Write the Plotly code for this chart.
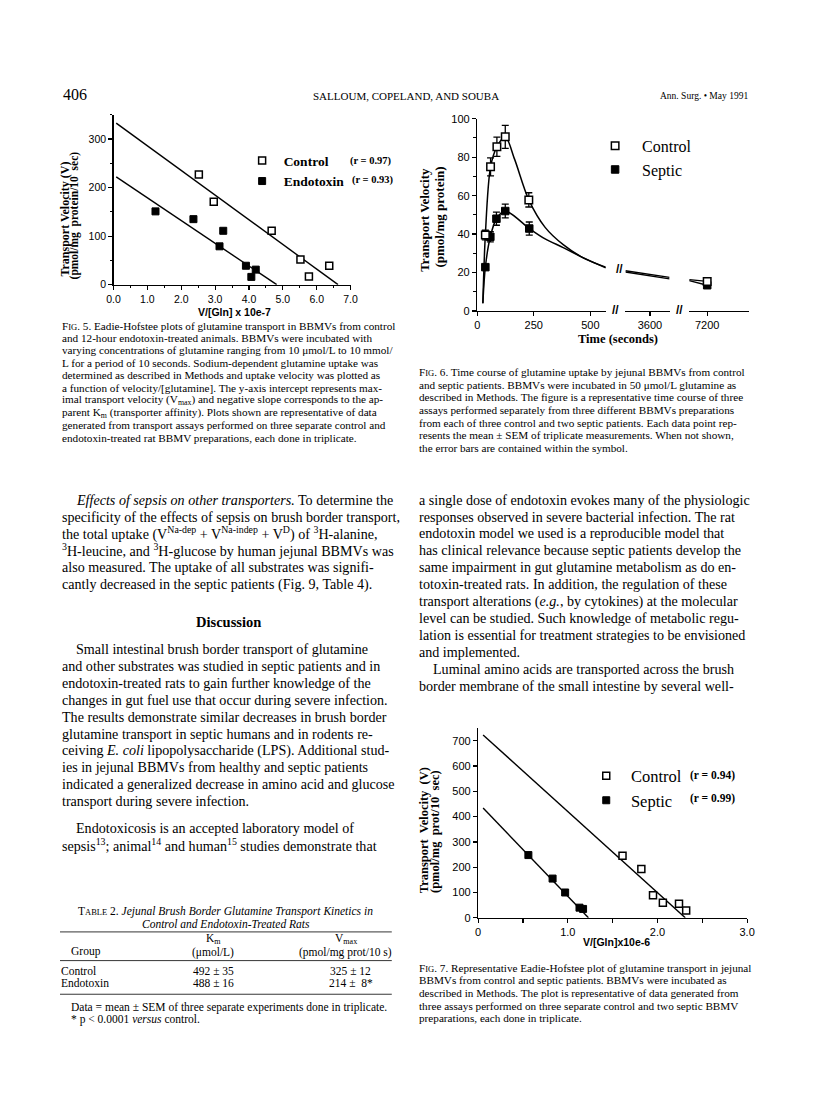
import plotly.graph_objects as go

W, H = 816, 1114
SERIF = "Liberation Serif"
SANS = "Liberation Sans"


def PX(x):
    return x / W


def PY(y):
    return 1 - y / H


# ---------------- Fig. 5 data (Eadie-Hofstee, rats) ----------------
f5_ctrl_x = [2.52, 2.96, 4.67, 5.52, 5.77, 6.37]
f5_ctrl_y = [227, 171, 111, 52, 17, 39]
f5_endo_x = [1.24, 2.36, 3.13, 3.24, 3.91, 4.07, 4.20]
f5_endo_y = [151, 135, 79, 111, 39, 16, 31]
f5_ctrl_fit_x = [0.08, 6.63]
f5_ctrl_fit_y = [333, 0]
f5_endo_fit_x = [0.08, 4.82]
f5_endo_fit_y = [222, 0]
f5_names = ["Control", "Endotoxin"]
f5_r = ["(r = 0.97)", "(r = 0.93)"]
f5_xticks = [0, 1, 2, 3, 4, 5, 6, 7]

# ---------------- Fig. 6 data (time course) ----------------
f6_ctrl_t = [36, 59, 87, 124, 228]
f6_ctrl_v = [39.5, 75, 85.4, 90.6, 57.8]
f6_ctrl_e = [2.5, 4.7, 5.0, 6.0, 3.7]
f6_sept_t = [36, 58, 85, 124, 230]
f6_sept_v = [22.8, 38.6, 48, 52, 42.9]
f6_sept_e = [1.0, 2.7, 3.4, 3.6, 3.4]
f6_late_t = [7200]
f6_ctrl_late = [15.4]
f6_sept_late = [13.4]
# fitted curves
f6_ctrl_curve_t = [25, 36, 59, 87, 124, 165, 228, 300, 380, 470, 568]
f6_ctrl_curve_v = [4, 39.5, 75, 85.4, 90.6, 79, 57.8, 43.5, 34.5, 27.5, 22.8]
f6_sept_curve_t = [25, 36, 58, 85, 124, 230, 300, 380, 470, 568]
f6_sept_curve_v = [4, 22.8, 38.6, 48, 52, 42.9, 37.5, 33.0, 27.6, 22.4]
f6_mid_curve_t = [2052, 4838]
f6_ctrl_mid_v = [20.9, 17.5]
f6_sept_mid_v = [20.3, 16.7]
f6_end_curve_t = [6067, 7200]
f6_ctrl_end_v = [16.3, 15.4]
f6_sept_end_v = [15.8, 13.4]
f6_names = ["Control", "Septic"]

# ---------------- Fig. 7 data (Eadie-Hofstee, patients) ----------------
f7_ctrl_x = [1.61, 1.82, 1.95, 2.06, 2.24, 2.32]
f7_ctrl_y = [245, 193, 89, 59, 55, 29]
f7_sept_x = [0.56, 0.83, 0.97, 1.13, 1.17]
f7_sept_y = [248, 155, 100, 40, 35]
f7_ctrl_fit_x = [0.055, 2.31]
f7_ctrl_fit_y = [723, 0]
f7_sept_fit_x = [0.055, 1.23]
f7_sept_fit_y = [434, 0]
f7_names = ["Control", "Septic"]
f7_r = ["(r = 0.94)", "(r = 0.99)"]
f7_xticks = [0, 1.0, 2.0, 3.0]
f7_xticktext = ["0", "1.0", "2.0", "3.0"]
f7_xminor = [0.5, 1.5, 2.5]

# ---------------- Table 2 ----------------
tab_groups = ["Control", "Endotoxin"]
tab_km = ["492 ± 35", "488 ± 16"]
tab_vmax = ["325 ± 12", "214 ±  8*"]

fig = go.Figure()

LINE = dict(color="black", width=1.4)


def open_sq(size):
    return dict(symbol="square", size=size, color="white", line=dict(color="black", width=1.5))


def fill_sq(size):
    return dict(symbol="square", size=size, color="black", line=dict(color="black", width=1))


def add(tr):
    fig.add_trace(tr)


# Fig 5 traces
add(go.Scatter(x=f5_ctrl_fit_x, y=f5_ctrl_fit_y, mode="lines", line=LINE, showlegend=False, xaxis="x", yaxis="y"))
add(go.Scatter(x=f5_endo_fit_x, y=f5_endo_fit_y, mode="lines", line=LINE, showlegend=False, xaxis="x", yaxis="y"))
add(go.Scatter(x=f5_ctrl_x, y=f5_ctrl_y, mode="markers", marker=open_sq(7), showlegend=False, xaxis="x", yaxis="y", cliponaxis=False))
add(go.Scatter(x=f5_endo_x, y=f5_endo_y, mode="markers", marker=fill_sq(7), showlegend=False, xaxis="x", yaxis="y", cliponaxis=False))
add(go.Scatter(x=[None], y=[None], mode="markers", marker=open_sq(7), name="<b>%s</b>" % f5_names[0], legend="legend", xaxis="x", yaxis="y"))
add(go.Scatter(x=[None], y=[None], mode="markers", marker=fill_sq(7), name="<b>%s</b>" % f5_names[1], legend="legend", xaxis="x", yaxis="y"))

# Fig 6 traces
CURVE = dict(color="black", width=1.5, shape="spline", smoothing=0.9)
add(go.Scatter(x=f6_ctrl_curve_t, y=f6_ctrl_curve_v, mode="lines", line=CURVE, showlegend=False, xaxis="x2", yaxis="y2"))
add(go.Scatter(x=f6_sept_curve_t, y=f6_sept_curve_v, mode="lines", line=CURVE, showlegend=False, xaxis="x2", yaxis="y2"))
add(go.Scatter(x=f6_mid_curve_t, y=f6_ctrl_mid_v, mode="lines", line=LINE, showlegend=False, xaxis="x3", yaxis="y2"))
add(go.Scatter(x=f6_mid_curve_t, y=f6_sept_mid_v, mode="lines", line=LINE, showlegend=False, xaxis="x3", yaxis="y2"))
add(go.Scatter(x=f6_end_curve_t, y=f6_ctrl_end_v, mode="lines", line=LINE, showlegend=False, xaxis="x4", yaxis="y2"))
add(go.Scatter(x=f6_end_curve_t, y=f6_sept_end_v, mode="lines", line=LINE, showlegend=False, xaxis="x4", yaxis="y2"))
ERR = dict(type="data", color="black", thickness=1.3, width=3.5)
add(go.Scatter(x=f6_sept_t, y=f6_sept_v, mode="markers", marker=fill_sq(7.5), error_y=dict(array=f6_sept_e, **ERR),
               showlegend=False, xaxis="x2", yaxis="y2", cliponaxis=False))
add(go.Scatter(x=f6_ctrl_t, y=f6_ctrl_v, mode="markers", marker=open_sq(7.5), error_y=dict(array=f6_ctrl_e, **ERR),
               showlegend=False, xaxis="x2", yaxis="y2", cliponaxis=False))
add(go.Scatter(x=f6_late_t, y=f6_sept_late, mode="markers", marker=fill_sq(7.5), showlegend=False, xaxis="x4", yaxis="y2", cliponaxis=False))
add(go.Scatter(x=f6_late_t, y=f6_ctrl_late, mode="markers", marker=open_sq(7.5), showlegend=False, xaxis="x4", yaxis="y2", cliponaxis=False))
add(go.Scatter(x=[None], y=[None], mode="markers", marker=open_sq(7.5), name=f6_names[0], legend="legend2", xaxis="x2", yaxis="y2"))
add(go.Scatter(x=[None], y=[None], mode="markers", marker=fill_sq(7.5), name=f6_names[1], legend="legend2", xaxis="x2", yaxis="y2"))

# Fig 7 traces
add(go.Scatter(x=f7_ctrl_fit_x, y=f7_ctrl_fit_y, mode="lines", line=LINE, showlegend=False, xaxis="x5", yaxis="y5"))
add(go.Scatter(x=f7_sept_fit_x, y=f7_sept_fit_y, mode="lines", line=LINE, showlegend=False, xaxis="x5", yaxis="y5"))
add(go.Scatter(x=f7_ctrl_x, y=f7_ctrl_y, mode="markers", marker=open_sq(7), showlegend=False, xaxis="x5", yaxis="y5", cliponaxis=False))
add(go.Scatter(x=f7_sept_x, y=f7_sept_y, mode="markers", marker=fill_sq(7), showlegend=False, xaxis="x5", yaxis="y5", cliponaxis=False))
add(go.Scatter(x=[None], y=[None], mode="markers", marker=open_sq(7), name=f7_names[0], legend="legend3", xaxis="x5", yaxis="y5"))
add(go.Scatter(x=[None], y=[None], mode="markers", marker=fill_sq(7), name=f7_names[1], legend="legend3", xaxis="x5", yaxis="y5"))


def ax(**kw):
    d = dict(showline=True, linecolor="black", linewidth=1.3, ticks="outside", ticklen=4, tickwidth=1.2,
             tickcolor="black", showgrid=False, zeroline=False, fixedrange=True,
             tickfont=dict(family=SANS, size=11, color="black"))
    d.update(kw)
    return d


MINOR = dict(ticks="outside", ticklen=2.5, tickcolor="black", tickwidth=1)


def legend_at(sym_x, first_y, fs, gap):
    # plotly legend: symbol centre at itemwidth/2 + 5, text starts at itemwidth + 10
    iw = max(30, 2 * (gap - 5))
    left = sym_x - (iw / 2 + 5)
    top = first_y - 5 - (1.3 * fs + 3) / 2
    return dict(x=PX(left), y=PY(top), xanchor="left", yanchor="top", bgcolor="rgba(0,0,0,0)",
                itemwidth=iw, font=dict(family=SERIF, size=fs, color="black"), traceorder="normal")


layout = dict(
    width=W, height=H, margin=dict(l=0, r=0, t=0, b=0),
    paper_bgcolor="white", plot_bgcolor="rgba(0,0,0,0)",
    font=dict(family=SERIF, color="black"),
    xaxis=ax(domain=[PX(108.5), PX(350)], range=[0, 7], tickvals=f5_xticks, tickformat=".1f",
             minor=dict(dtick=0.5, **MINOR), anchor="y", tickfont=dict(family=SANS, size=10.5, color="black")),
    yaxis=ax(domain=[PY(281.7), PY(110)], range=[0, 350], dtick=100, minor=dict(dtick=50, **MINOR), anchor="x",
             tickfont=dict(family=SANS, size=10.5, color="black")),
    xaxis2=ax(domain=[PX(479), PX(610)], range=[0, 568], tickvals=[0, 250, 500], anchor="y2"),
    xaxis3=ax(domain=[PX(630), PX(675)], range=[2052, 4838], tickvals=[3600], anchor="y2"),
    xaxis4=ax(domain=[PX(695), PX(756)], range=[6067, 9843], tickvals=[7200], anchor="y2"),
    yaxis2=ax(domain=[PY(308.3), PY(114)], range=[0, 100], dtick=20, minor=dict(dtick=10, **MINOR), anchor="x2"),
    xaxis5=ax(domain=[PX(480), PX(754)], range=[0, 3], tickvals=f7_xticks, ticktext=f7_xticktext, anchor="y5",
              minor=dict(tickmode="array", tickvals=f7_xminor, ticks="outside", ticklen=4, tickcolor="black", tickwidth=1.2)),
    yaxis5=ax(domain=[PY(921.7), PY(730)], range=[0, 750], tickvals=[0, 100, 200, 300, 400, 500, 600, 700], anchor="x5"),
    legend=legend_at(259.5, 156, 13.5, 21.5),
    legend2=legend_at(619, 141, 16, 27),
    legend3=legend_at(610, 778, 16.5, 24.7),
    showlegend=True,
)
fig.update_layout(**layout)

ann = []


def T(x, y, text, size, anchor="left", family=SERIF, angle=0):
    ann.append(dict(x=PX(x), y=PY(y), xref="paper", yref="paper", text=text, showarrow=False,
                    xanchor=anchor, yanchor="middle", textangle=angle,
                    font=dict(family=family, size=size, color="black")))


# Header
T(55, 89, "406", 16)
T(406, 91, "SALLOUM, COPELAND, AND SOUBA", 11, "center")
T(757, 91, "Ann. Surg. • May 1991", 9.5, "right")

# Fig 5 labels
T(59, 215, "<b>Transport Velocity (V)</b>", 12, "center", angle=-90)
T(69, 212, "<b>(pmol/mg  protein/10  sec)</b>", 11.5, "center", angle=-90)
T(232, 309, "<b>V/[Gln] x 10e-7</b>", 10.5, "center", SANS)
T(347, 157, "<b>%s</b>" % f5_r[0], 10.5)
T(349, 176, "<b>%s</b>" % f5_r[1], 10.5)

# Fig 6 labels
T(426, 216, "<b>Transport Velocity</b>", 13, "center", angle=-90)
T(441, 213, "<b>(pmol/mg protein)</b>", 13, "center", angle=-90)
T(622, 337, "<b>Time (seconds)</b>", 12.5, "center")
T(620, 307, "<b>//</b>", 12, "center", SANS)
T(685, 307, "<b>//</b>", 12, "center", SANS)
T(624, 266, "<b>//</b>", 12, "center", SANS)

# Fig 7 labels
T(425, 833, "<b>Transport  Velocity  (V)</b>", 12.5, "center", angle=-90)
T(436, 834, "<b>(pmol/mg  prot/10  sec)</b>", 12.5, "center", angle=-90)
T(621, 946, "<b>V/[Gln]x10e-6</b>", 10.5, "center", SANS)
T(694, 778, "<b>%s</b>" % f7_r[0], 11.5)
T(694, 801, "<b>%s</b>" % f7_r[1], 11.5)

SC = "<span style='font-size:8.5px'>%s</span>"
CAP = 11.2

cap5 = [
    "F" + SC % "IG" + ". 5. Eadie-Hofstee plots of glutamine transport in BBMVs from control",
    "and 12-hour endotoxin-treated animals. BBMVs were incubated with",
    "varying concentrations of glutamine ranging from 10 μmol/L to 10 mmol/",
    "L for a period of 10 seconds. Sodium-dependent glutamine uptake was",
    "determined as described in Methods and uptake velocity was plotted as",
    "a function of velocity/[glutamine]. The y-axis intercept represents max-",
    "imal transport velocity (V<sub>max</sub>) and negative slope corresponds to the ap-",
    "parent K<sub>m</sub> (transporter affinity). Plots shown are representative of data",
    "generated from transport assays performed on three separate control and",
    "endotoxin-treated rat BBMV preparations, each done in triplicate.",
]
for i, s in enumerate(cap5):
    T(54, 323 + 12.6 * i, s, CAP)

cap6 = [
    "F" + SC % "IG" + ". 6. Time course of glutamine uptake by jejunal BBMVs from control",
    "and septic patients. BBMVs were incubated in 50 μmol/L glutamine as",
    "described in Methods. The figure is a representative time course of three",
    "assays performed separately from three different BBMVs preparations",
    "from each of three control and two septic patients. Each data point rep-",
    "resents the mean ± SEM of triplicate measurements. When not shown,",
    "the error bars are contained within the symbol.",
]
for i, s in enumerate(cap6):
    T(418, 370 + 12.8 * i, s, CAP)

cap7 = [
    "F" + SC % "IG" + ". 7. Representative Eadie-Hofstee plot of glutamine transport in jejunal",
    "BBMVs from control and septic patients. BBMVs were incubated as",
    "described in Methods. The plot is representative of data generated from",
    "three assays performed on three separate control and two septic BBMV",
    "preparations, each done in triplicate.",
]
for i, s in enumerate(cap7):
    T(418, 972 + 12.8 * i, s, CAP)

BODY = 14.1
LS = 17.1
para1 = [
    "<i>Effects of sepsis on other transporters.</i> To determine the",
    "specificity of the effects of sepsis on brush border transport,",
    "the total uptake (V<sup>Na-dep</sup> + V<sup>Na-indep</sup> + V<sup>D</sup>) of <sup>3</sup>H-alanine,",
    "<sup>3</sup>H-leucine, and <sup>3</sup>H-glucose by human jejunal BBMVs was",
    "also measured. The uptake of all substrates was signifi-",
    "cantly decreased in the septic patients (Fig. 9, Table 4).",
]
for i, s in enumerate(para1):
    T(68 if i == 0 else 54, 499 + LS * i, s, BODY)

T(226, 623, "<b>Discussion</b>", 14.5, "center")

para2 = [
    "Small intestinal brush border transport of glutamine",
    "and other substrates was studied in septic patients and in",
    "endotoxin-treated rats to gain further knowledge of the",
    "changes in gut fuel use that occur during severe infection.",
    "The results demonstrate similar decreases in brush border",
    "glutamine transport in septic humans and in rodents re-",
    "ceiving <i>E. coli</i> lipopolysaccharide (LPS). Additional stud-",
    "ies in jejunal BBMVs from healthy and septic patients",
    "indicated a generalized decrease in amino acid and glucose",
    "transport during severe infection.",
]
for i, s in enumerate(para2):
    T(68 if i == 0 else 54, 650 + LS * i, s, BODY)

para3 = [
    "Endotoxicosis is an accepted laboratory model of",
    "sepsis<sup>13</sup>; animal<sup>14</sup> and human<sup>15</sup> studies demonstrate that",
]
for i, s in enumerate(para3):
    T(68 if i == 0 else 54, 831 + LS * i, s, BODY)

para4 = [
    "a single dose of endotoxin evokes many of the physiologic",
    "responses observed in severe bacterial infection. The rat",
    "endotoxin model we used is a reproducible model that",
    "has clinical relevance because septic patients develop the",
    "same impairment in gut glutamine metabolism as do en-",
    "totoxin-treated rats. In addition, the regulation of these",
    "transport alterations (<i>e.g.</i>, by cytokines) at the molecular",
    "level can be studied. Such knowledge of metabolic regu-",
    "lation is essential for treatment strategies to be envisioned",
    "and implemented.",
    "Luminal amino acids are transported across the brush",
    "border membrane of the small intestine by several well-",
]
for i, s in enumerate(para4):
    T(432 if i == 10 else 418, 499 + LS * i, s, BODY)

# Table 2
TB = 11.5
T(223, 915, "T" + SC % "ABLE" + " 2. <i>Jejunal Brush Border Glutamine Transport Kinetics in</i>", TB, "center")
T(223, 928, "<i>Control and Endotoxin-Treated Rats</i>", TB, "center")
T(210, 943, "K<sub>m</sub>", TB, "center")
T(345, 943, "V<sub>max</sub>", TB, "center")
T(63, 956, "Group", TB)
T(210, 957, "(μmol/L)", TB, "center")
T(345, 957, "(pmol/mg prot/10 s)", TB, "center")
for i, g in enumerate(tab_groups):
    y = 976 + 12 * i
    T(53, y, g, TB)
    T(210, y, tab_km[i], TB, "center")
    T(350, y, tab_vmax[i], TB, "center")
T(63, 1012, "Data = mean ± SEM of three separate experiments done in triplicate.", TB)
T(63, 1025, "* p < 0.0001 <i>versus</i> control.", TB)

shapes = []
for yy in [936, 965, 999]:
    shapes.append(dict(type="line", xref="paper", yref="paper", x0=PX(54), x1=PX(392), y0=PY(yy), y1=PY(yy),
                       line=dict(color="black", width=0.8)))

fig.update_layout(annotations=ann, shapes=shapes)
fig.write_html("out.html", config={"displayModeBar": False, "staticPlot": True},
               post_script="document.body.style.margin='0px';document.body.style.overflow='hidden';")
